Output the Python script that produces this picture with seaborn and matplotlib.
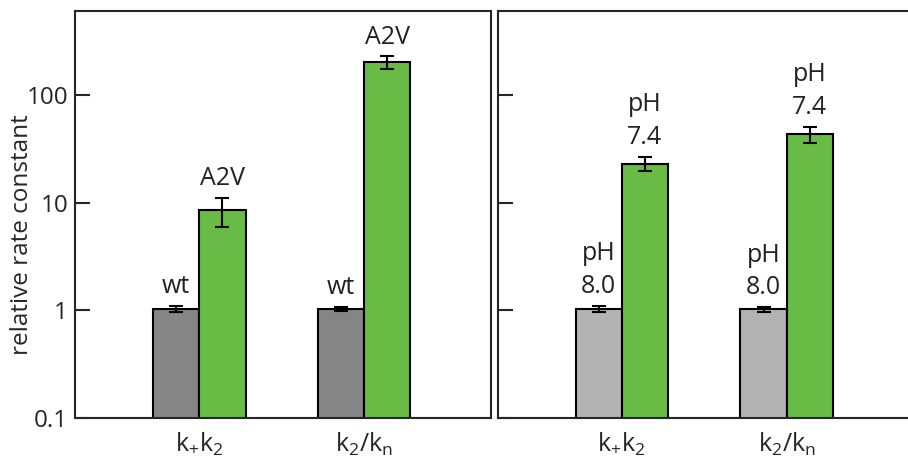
import matplotlib
matplotlib.use("Agg")
import matplotlib.pyplot as plt
import seaborn as sns
import pandas as pd

# values (log axis)
constants = ["k+k2", "k2/kn"]
tick_labels = [r"$\mathregular{k_{+}k_{2}}$", r"$\mathregular{k_{2}/k_{n}}$"]

wt_vals = [1.03, 1.03]
wt_err = [0.07, 0.05]
a2v_vals = [8.5, 200]
a2v_err = [2.6, 27]

ph80_vals = [1.03, 1.02]
ph80_err = [0.07, 0.05]
ph74_vals = [23, 43]
ph74_err = [3.5, 7.5]

dark_gray = "#858585"
light_gray = "#b3b3b3"
green = "#68bc45"

sns.set_style("ticks")
plt.rcParams["font.family"] = ["Open Sans", "DejaVu Sans"]
plt.rcParams["axes.linewidth"] = 1.5

fig = plt.figure(figsize=(9.08, 4.61), dpi=100)
ax1 = fig.add_axes([75 / 908, 43 / 461, 416 / 908, 407 / 461])
ax2 = fig.add_axes([498 / 908, 43 / 461, 414 / 908, 407 / 461])


def draw_panel(ax, names, vals, errs, colors, texts):
    df = pd.DataFrame({
        "constant": constants * 2,
        "group": [names[0]] * 2 + [names[1]] * 2,
        "value": vals[0] + vals[1],
    })
    sns.barplot(data=df, x="constant", y="value", hue="group",
                palette=colors, width=0.56, gap=0, errorbar=None,
                edgecolor="black", linewidth=1.5, legend=False,
                saturation=1, ax=ax)
    ax.set_yscale("log")
    for cont, v, e, t in zip(ax.containers, vals, errs, texts):
        xs = [p.get_x() + p.get_width() / 2 for p in cont.patches]
        ax.errorbar(xs, v, yerr=e, fmt="none", ecolor="black",
                    elinewidth=1.5, capsize=5, capthick=1.5)
        for x, vv, ee in zip(xs, v, e):
            ax.annotate(t, xy=(x, vv + ee), xytext=(0, 5),
                        textcoords="offset points", ha="center",
                        va="bottom", fontsize=18, color="#222222",
                        linespacing=1.4)
    ax.set_ylim(0.1, 600)
    ax.set_xlim(-0.755, 1.77)
    ax.set_yticks([0.1, 1, 10, 100])
    ax.yaxis.set_minor_locator(matplotlib.ticker.NullLocator())
    ax.set_xticks([0, 1])
    ax.set_xticklabels(tick_labels)
    ax.tick_params(axis="y", direction="in", length=11, width=1.5,
                   labelsize=17.5, pad=5)
    ax.tick_params(axis="x", length=0, labelsize=18, pad=9)
    ax.set_xlabel("")
    for s in ax.spines.values():
        s.set_visible(True)
        s.set_linewidth(1.5)


draw_panel(ax1, ["wt", "A2V"], [wt_vals, a2v_vals], [wt_err, a2v_err],
           [dark_gray, green], ["wt", "A2V"])
ax1.set_yticklabels(["0.1", "1", "10", "100"])
ax1.set_ylabel("relative rate constant", fontsize=17.5)
ax1.yaxis.set_label_coords(-0.098, 0.45)

draw_panel(ax2, ["8.0", "7.4"], [ph80_vals, ph74_vals], [ph80_err, ph74_err],
           [light_gray, green], ["pH\n8.0", "pH\n7.4"])
ax2.set_xlim(-0.75, 1.76)
ax2.set_yticklabels([])
ax2.set_ylabel("")

fig.savefig("out.png", dpi=100)
